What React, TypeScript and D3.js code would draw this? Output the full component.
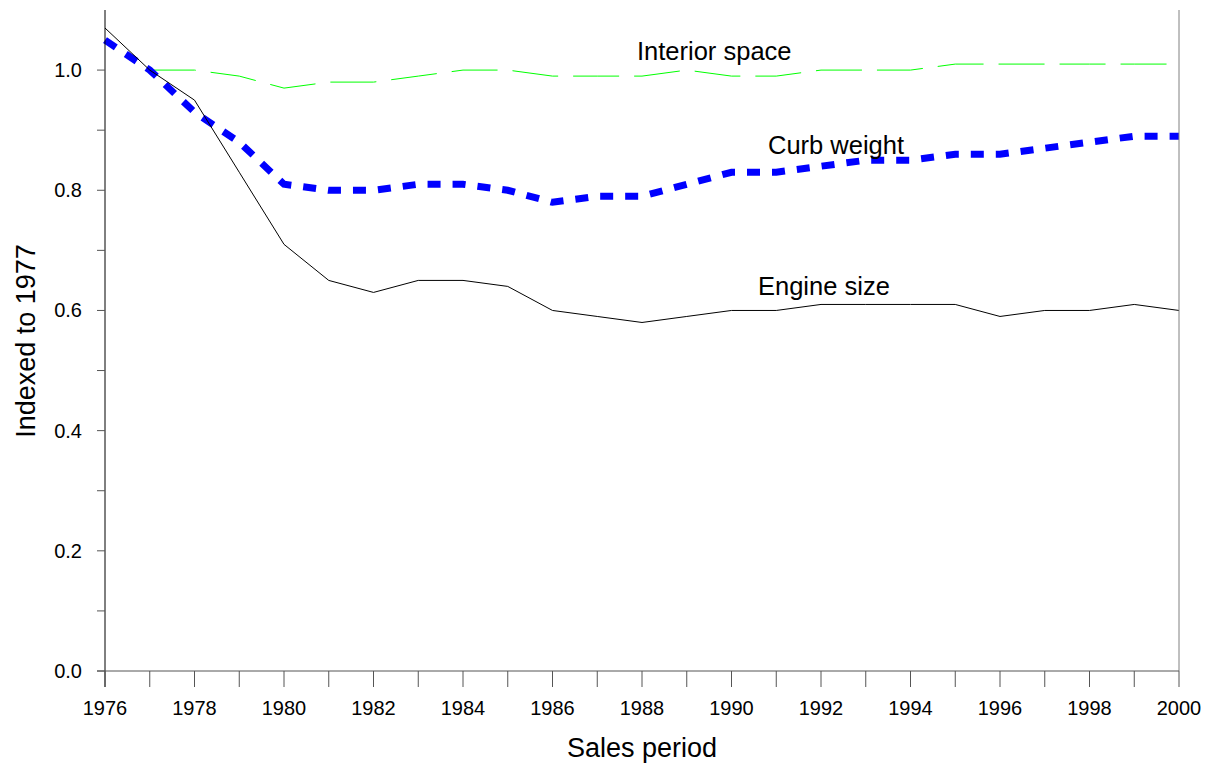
import React from "react";
import * as d3 from "d3";

const years = [1976,1977,1978,1979,1980,1981,1982,1983,1984,1985,1986,1987,1988,1989,1990,1991,1992,1993,1994,1995,1996,1997,1998,1999,2000];
const engineSize = [1.07,1.0,0.95,0.83,0.71,0.65,0.63,0.65,0.65,0.64,0.60,0.59,0.58,0.59,0.60,0.60,0.61,0.61,0.61,0.61,0.59,0.60,0.60,0.61,0.60];
const curbWeight = [1.05,1.0,0.93,0.88,0.81,0.80,0.80,0.81,0.81,0.80,0.78,0.79,0.79,0.81,0.83,0.83,0.84,0.85,0.85,0.86,0.86,0.87,0.88,0.89,0.89];
const interiorSpace = [null,1.0,1.0,0.99,0.97,0.98,0.98,0.99,1.0,1.0,0.99,0.99,0.99,1.0,0.99,0.99,1.0,1.0,1.0,1.01,1.01,1.01,1.01,1.01,1.01];
const yTicks = [0,0.1,0.2,0.3,0.4,0.5,0.6,0.7,0.8,0.9,1.0];
const xLabelYears = [1976,1978,1980,1982,1984,1986,1988,1990,1992,1994,1996,1998,2000];

const W = 1211, H = 765;
const left = 105, right = 1179, top = 10, bottom = 671;
const font = "Arial, 'Liberation Sans', sans-serif";

export default function App() {
  const x = d3.scaleLinear().domain([1976, 2000]).range([left, right]);
  const y = d3.scaleLinear().domain([0, 1.1]).range([bottom, top]);
  const mk = (vals: (number | null)[]) =>
    d3.line<number>()
      .defined((_, i) => vals[i] != null)
      .x((_, i) => x(years[i]))
      .y((_, i) => y(vals[i] as number))(vals as number[]) || "";
  const isMajor = (v: number) => Math.abs(Math.round(v * 10) % 2) === 0;
  return (
    <div style={{ position: "absolute", left: 0, top: 0 }}>
      <svg width={W} height={H} style={{ display: "block", background: "#fff" }} fontFamily={font}>
        <rect x={0} y={0} width={W} height={H} fill="#fff" />
        {/* lines */}
        <path d={mk(interiorSpace)} fill="none" stroke="#00ff00" strokeWidth={1} strokeDasharray="46,15" />
        <path d={mk(curbWeight)} fill="none" stroke="#0000ff" strokeWidth={7} strokeDasharray="13,12" />
        <path d={mk(engineSize)} fill="none" stroke="#000" strokeWidth={1} />
        {/* frame */}
        <line x1={right} x2={right} y1={top} y2={bottom} stroke="#808080" strokeWidth={1} />
        <line x1={left} x2={left} y1={top} y2={bottom + 16} stroke="#000" strokeWidth={1} />
        <line x1={left - 8} x2={right} y1={bottom} y2={bottom} stroke="#555" strokeWidth={1} />
        {/* y ticks */}
        {yTicks.map((t) => (
          <g key={"y" + t}>
            <line x1={left - 8} x2={left} y1={y(t)} y2={y(t)} stroke="#555" strokeWidth={1} />
            {isMajor(t) && (
              <text x={82} y={y(t)} dy="0.35em" textAnchor="end" fontSize={20} fill="#000">
                {d3.format(".1f")(t)}
              </text>
            )}
          </g>
        ))}
        {/* x ticks */}
        {years.map((yr) => (
          <line key={"x" + yr} x1={x(yr)} x2={x(yr)} y1={bottom} y2={bottom + 16} stroke="#555" strokeWidth={1} />
        ))}
        {xLabelYears.map((yr) => (
          <text key={"xl" + yr} x={x(yr)} y={715} textAnchor="middle" fontSize={20} fill="#000">
            {yr}
          </text>
        ))}
        {/* series labels */}
        <text x={637} y={60} fontSize={25.5} fill="#000">Interior space</text>
        <text x={768} y={154} fontSize={25.5} fill="#000">Curb weight</text>
        <text x={758} y={295} fontSize={25.5} fill="#000">Engine size</text>
        {/* axis titles */}
        <text x={642} y={757} textAnchor="middle" fontSize={27} fill="#000">Sales period</text>
        <text transform={`translate(35, ${(245 + 437) / 2}) rotate(-90)`} textAnchor="middle" fontSize={27} fill="#000">
          Indexed to 1977
        </text>
      </svg>
    </div>
  );
}
